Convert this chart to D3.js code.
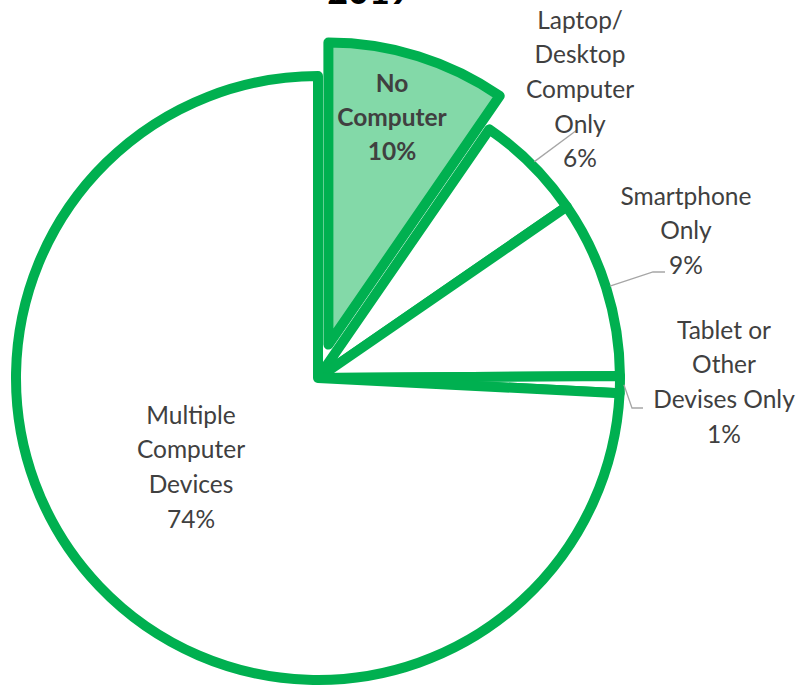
<!DOCTYPE html>
<html>
<head>
<meta charset="utf-8">
<script src="https://cdn.jsdelivr.net/npm/d3@7"></script>
<style>
  body { margin:0; background:#fff; }
  text { font-family: Lato, "Open Sans", sans-serif; fill:#404040; }
</style>
</head>
<body>
<svg id="chart" width="802" height="689"></svg>
<script>
// data
var categories = ["No Computer", "Laptop/Desktop Computer Only", "Smartphone Only", "Tablet or Other Devises Only", "Multiple Computer Devices"];
var shares     = [9.6, 5.8, 9.5, 0.9, 74.2];
var pctLabels  = ["10%", "6%", "9%", "1%", "74%"];
var labelLines = [["No", "Computer"], ["Laptop/", "Desktop", "Computer", "Only"], ["Smartphone", "Only"], ["Tablet or", "Other", "Devises Only"], ["Multiple", "Computer", "Devices"]];
var title = "2019";

// layout
var cx = 318, cy = 378, R = 302, explode = 35;
var labelAt = [[392, 83], [580, 20], [686, 196], [724, 330], [191, 415]];
var leaderEnd = [null, [[577, 130]], [[653, 272], [665, 272]], [[632, 408], [643, 408]], null];
var green = "#00B050", lightGreen = "#83D9A8";

var svg = d3.select("#chart");
var g = svg.append("g").attr("transform", "translate(" + cx + "," + cy + ")");

var pie = d3.pie().sort(null).value(function(d) { return d; });
var arcs = pie(shares);
var arc = d3.arc().innerRadius(0).outerRadius(R);

g.selectAll("path.slice").data(arcs).enter().append("path")
  .attr("class", "slice")
  .attr("d", arc)
  .attr("transform", function(d, i) {
    if (i !== 0) return null;
    var a = (d.startAngle + d.endAngle) / 2;
    return "translate(" + (explode * Math.sin(a)) + "," + (-explode * Math.cos(a)) + ")";
  })
  .attr("fill", function(d, i) { return i === 0 ? lightGreen : "#fff"; })
  .attr("stroke", green)
  .attr("stroke-width", 10)
  .attr("stroke-linejoin", "round");

// leader lines
arcs.forEach(function(d, i) {
  if (!leaderEnd[i]) return;
  var a = (d.startAngle + d.endAngle) / 2;
  var pts = [[cx + (R + 4) * Math.sin(a), cy - (R + 4) * Math.cos(a)]].concat(leaderEnd[i]);
  svg.append("path")
    .attr("d", d3.line()(pts))
    .attr("fill", "none")
    .attr("stroke", "#A6A6A6")
    .attr("stroke-width", 1.3);
});

// labels
categories.forEach(function(c, i) {
  var lines = labelLines[i].concat([pctLabels[i]]);
  var t = svg.append("text")
    .attr("text-anchor", "middle")
    .attr("font-size", 24.5)
    .attr("font-weight", i === 0 ? "bold" : null);
  lines.forEach(function(s, j) {
    t.append("tspan")
      .attr("x", labelAt[i][0])
      .attr("y", labelAt[i][1] + j * (i === 0 ? 34 : 34.7))
      .attr("dy", "0.35em")
      .text(s);
  });
});

// title sits mostly above the frame, as in the reference
svg.append("text")
  .attr("x", 369).attr("y", 4)
  .attr("text-anchor", "middle")
  .attr("font-size", 36)
  .attr("font-weight", "bold")
  .style("fill", "#000")
  .text(title);
</script>
</body>
</html>
